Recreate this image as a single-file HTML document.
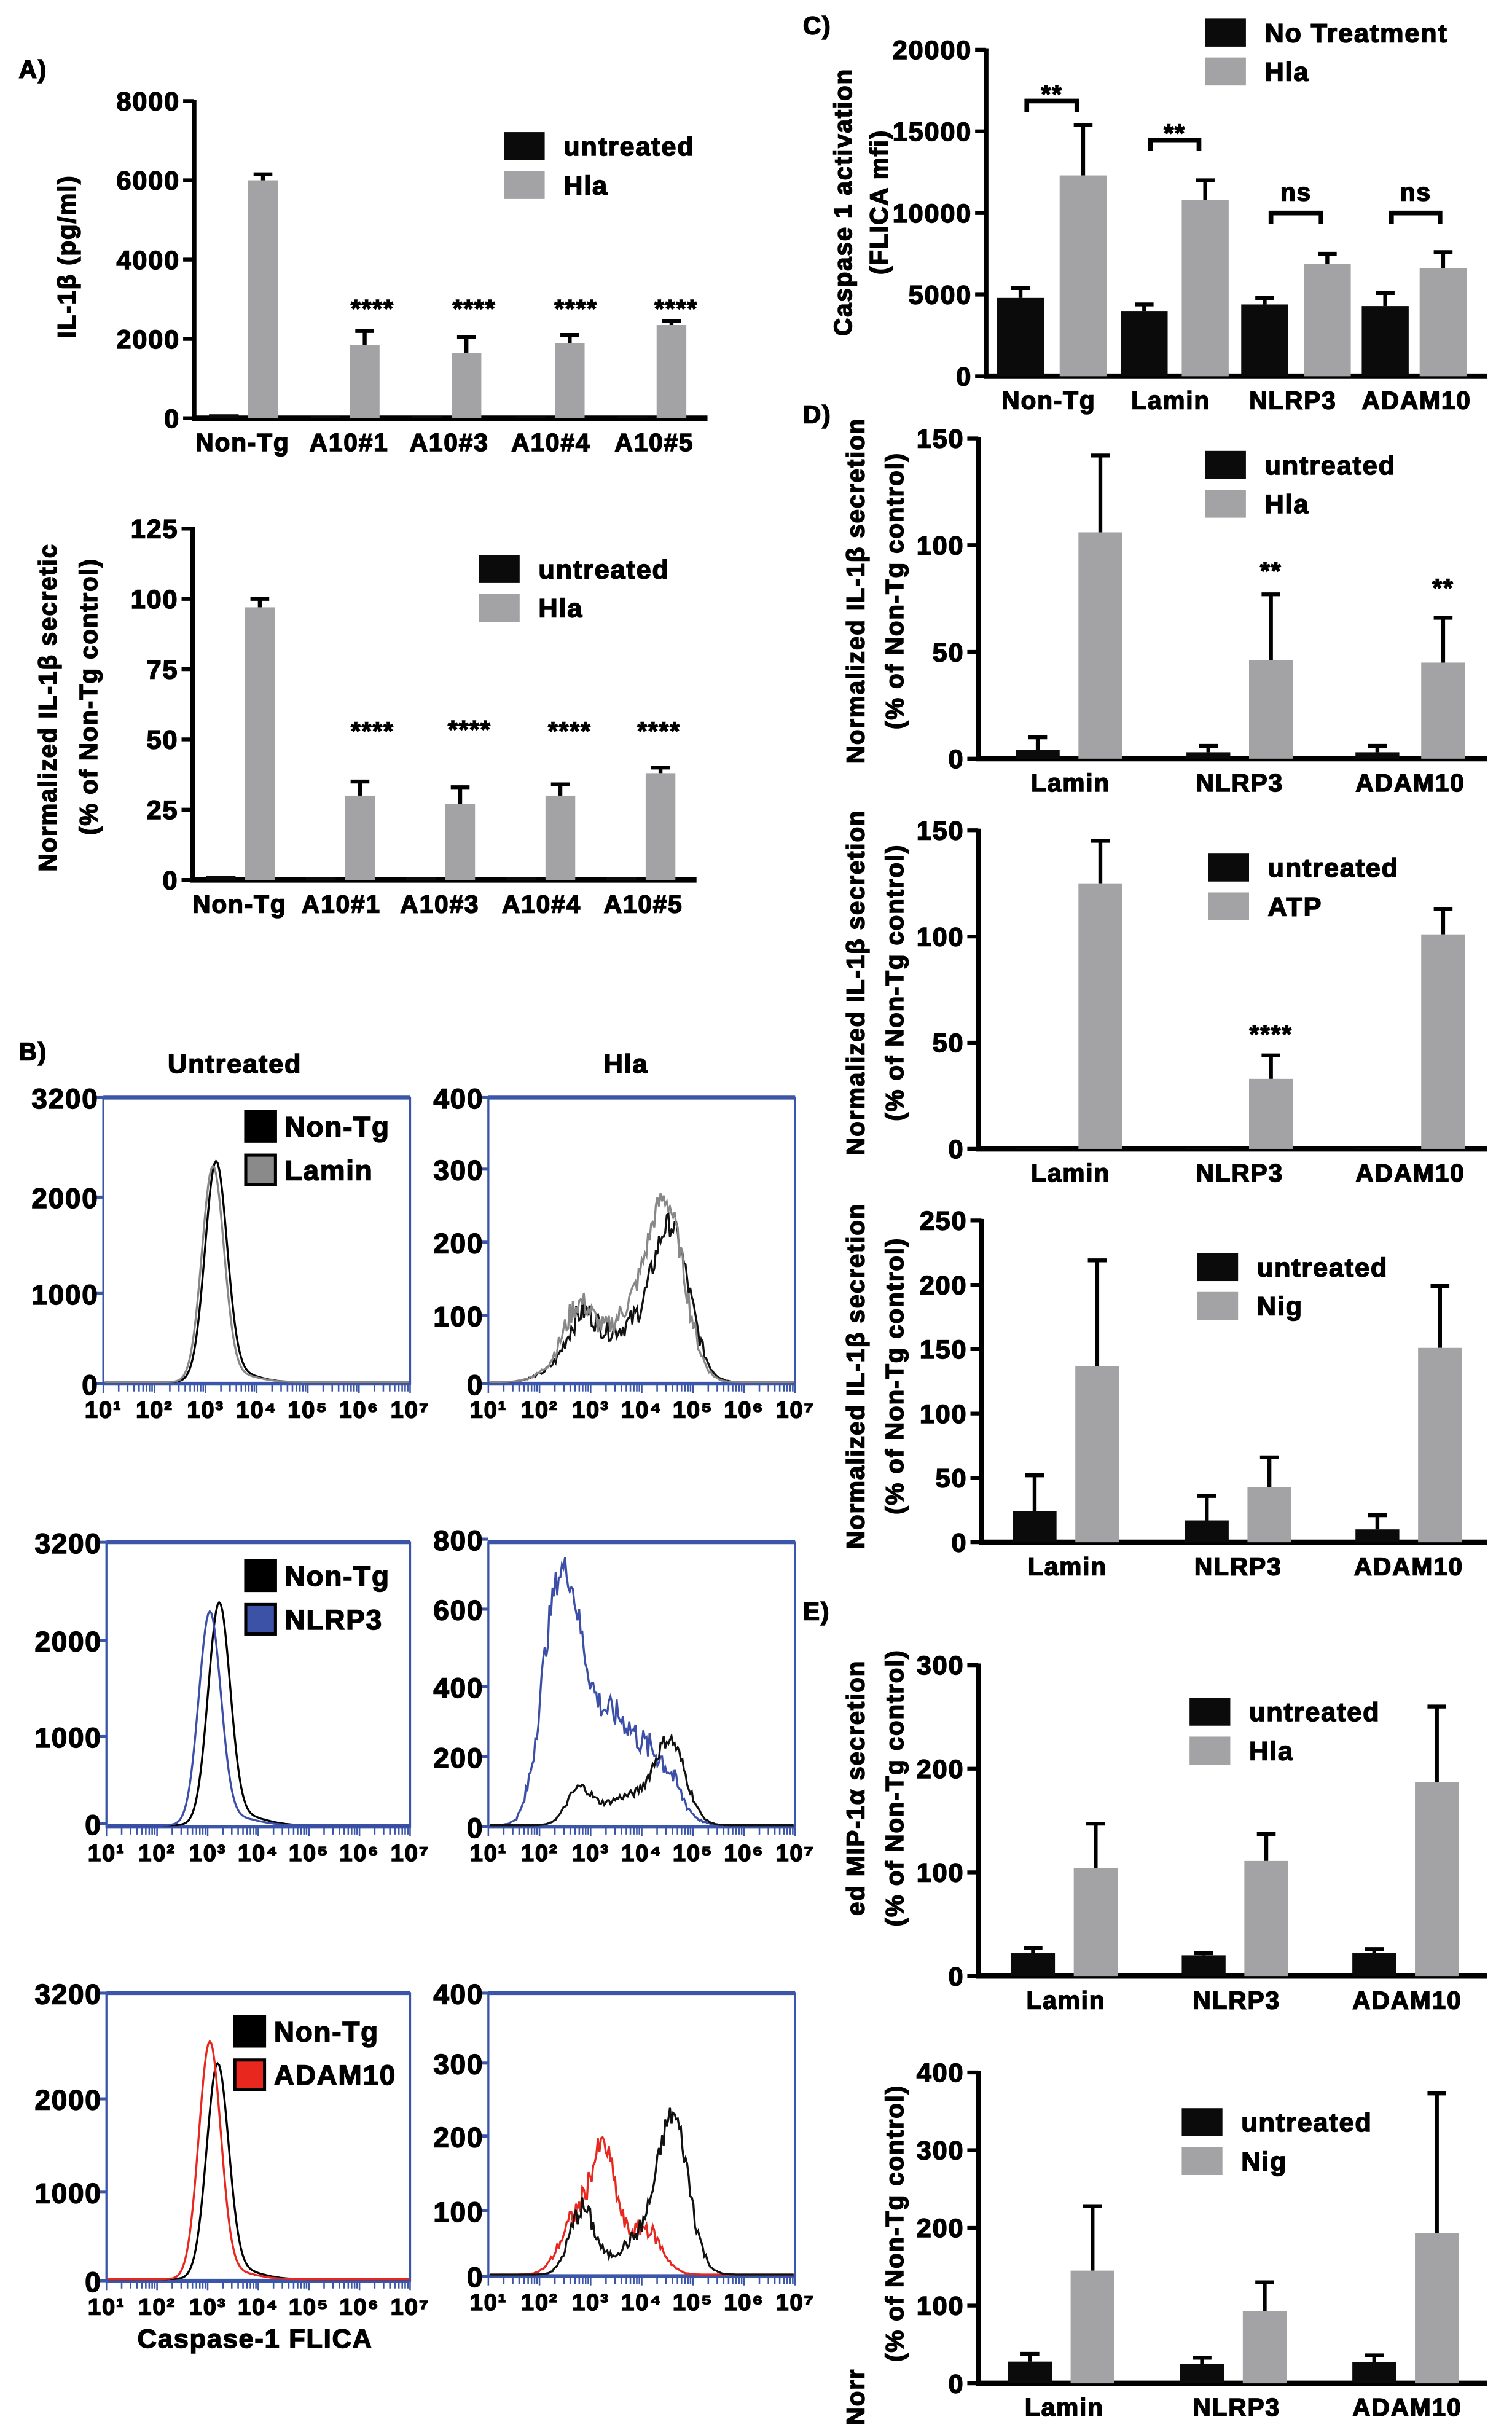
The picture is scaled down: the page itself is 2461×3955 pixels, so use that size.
<!DOCTYPE html>
<html><head><meta charset="utf-8"><style>
html,body{margin:0;padding:0;background:#fff}
svg{display:block}
text{font-family:"Liberation Sans",sans-serif;font-weight:bold;fill:#000;stroke:#000;stroke-width:0.6px;letter-spacing:0.7px}
</style></head><body>
<svg id="s" width="2461" height="3955" viewBox="0 0 966 1563" preserveAspectRatio="none" xmlns="http://www.w3.org/2000/svg">
<rect width="966" height="1563" fill="#fff"/>
</svg>
<script>
const S=document.getElementById('s');const NS='http://www.w3.org/2000/svg';
function el(t,a,txt){const e=document.createElementNS(NS,t);for(const k in a)e.setAttribute(k,a[k]);if(txt!==undefined)e.textContent=txt;S.appendChild(e);return e;}
function T(x,y,s,size,anchor,rot,ls){const a={x:x,y:y,'font-size':size||15,'text-anchor':anchor||'start','font-weight':'bold'};if(rot)a.transform='rotate(-90 '+x+' '+y+')';if(ls)a['letter-spacing']=ls;return el('text',a,s);}
function L(x1,y1,x2,y2,c,w){el('line',{x1,y1,x2,y2,stroke:c||'#000','stroke-width':w||3});}
function R(x,y,w,h,c){el('rect',{x,y,width:w,height:h,fill:c});}
const G='#a3a3a5',K='#0b0b0b';
function bc(o){
 const Y=v=>o.y0-(o.y0-o.yt)*v/o.vm;
 L(o.x,o.yt-1,o.x,o.y0+1.5,'#000',3);L(o.x-1.5,o.y0,o.xe,o.y0,'#000',3.5);
 o.ticks.forEach(t=>{L(o.x-7,Y(t),o.x,Y(t),'#000',2.5);T(o.x-9,Y(t)+6,String(t),o.fs||17,'end');});
 o.bars.forEach(b=>{const bw=o.bw;const col=b[3]?G:K;
  if(b[2]!=null&&b[2]>b[1]){L(b[0],Y(b[1]),b[0],Y(b[2]),'#000',2.5);L(b[0]-6,Y(b[2]),b[0]+6,Y(b[2]),'#000',2.5);}
  R(b[0]-bw/2,Y(b[1]),bw,o.y0-Y(b[1]),col);});
 o.labels.forEach(l=>T(l[0],o.y0+21,l[1],o.lfs||16,'middle'));
 (o.stars||[]).forEach(s=>T(s[0],Y(s[1]),s[2],16,'middle',0,'2'));
 if(o.leg){const[lx,ly,a,b]=o.leg;R(lx,ly,26,18,K);R(lx,ly+25,26,18,G);T(lx+38,ly+15,a,17);T(lx+38,ly+40,b,17);}
}
// Panel A
T(12,50,'A)',16);
T(48,165,'IL-1β (pg/ml)',16,'middle',1,'0');
bc({x:124,y0:269,yt:65,vm:8000,xe:452,ticks:[0,2000,4000,6000,8000],bw:19,
 bars:[[143,100,null,0],[168,6000,6150,1],[208,60,null,0],[233,1850,2200,1],[273,60,null,0],[298,1650,2050,1],[339,50,null,0],[364,1900,2100,1],[404,50,null,0],[429,2350,2450,1]],
 labels:[[155,'Non-Tg'],[223,'A10#1'],[287,'A10#3'],[352,'A10#4'],[418,'A10#5']],
 stars:[[238,2550,'****'],[303,2550,'****'],[368,2550,'****'],[432,2550,'****']],leg:[322,85,'untreated','Hla']});
T(36,455,'Normalized IL-1β secretic',16,'middle',1,'0');
T(62,448,'(% of Non-Tg control)',16,'middle',1,'0');
bc({x:123,y0:566,yt:340,vm:125,xe:445,ticks:[0,25,50,75,100,125],bw:19,
 bars:[[141,1.5,null,0],[166,97,100,1],[205,1,null,0],[230,30,35,1],[269,1,null,0],[294,27,33,1],[333,1,null,0],[358,30,34,1],[397,1,null,0],[422,38,40,1]],
 labels:[[153,'Non-Tg'],[218,'A10#1'],[281,'A10#3'],[346,'A10#4'],[411,'A10#5']],
 stars:[[238,50,'****'],[300,50.5,'****'],[364,50,'****'],[421,50,'****']],leg:[306,357,'untreated','Hla']});
// Panel C
T(513,22,'C)',16);
T(544,130,'Caspase 1 activation',16,'middle',1,'0');T(567,130,'(FLICA mfi)',16,'middle',1,'0');
bc({x:630,y0:242,yt:32,vm:20000,xe:950,ticks:[0,5000,10000,15000,20000],bw:30,
 bars:[[652,4800,5400,0],[692,12300,15400,1],[731,4000,4400,0],[770,10800,12000,1],[808,4400,4800,0],[848,6900,7500,1],[885,4300,5100,0],[922,6600,7600,1]],
 labels:[[670,'Non-Tg'],[748,'Lamin'],[826,'NLRP3'],[905,'ADAM10']],leg:[770,12,'No Treatment','Hla']});
[[656,688,65,'**',70],[735,766,90,'**',95],[812,844,137,'ns',132],[889,920,137,'ns',132]].forEach(b=>{
 el('path',{d:`M${b[0]} ${b[2]+7}V${b[2]}H${b[1]}V${b[2]+7}`,fill:'none',stroke:'#000','stroke-width':3});
 T((b[0]+b[1])/2,b[4]-(b[3]=='**'?4:3),b[3],16,'middle',0,b[3]=='**'?'2':'0');});
// Panel D
T(513,272,'D)',16);
function ylab(cx,a,b){T(552,cx,a,16,'middle',1,'0');T(577,cx,b,16,'middle',1,'0');}
ylab(380,'Normalized IL-1β secretion','(% of Non-Tg control)');
bc({x:625,y0:488,yt:282,vm:150,xe:950,ticks:[0,50,100,150],bw:28,
 bars:[[663,4,10,0],[703,106,142,1],[772,3,6,0],[812,46,77,1],[880,3,6,0],[922,45,66,1]],
 labels:[[684,'Lamin'],[792,'NLRP3'],[901,'ADAM10']],stars:[[812,84,'**'],[922,76,'**']],leg:[770,290,'untreated','Hla']});
ylab(632,'Normalized IL-1β secretion','(% of Non-Tg control)');
bc({x:625,y0:739,yt:534,vm:150,xe:950,ticks:[0,50,100,150],bw:28,
 bars:[[663,0.5,null,0],[703,125,145,1],[772,0.5,null,0],[812,33,44,1],[880,0.5,null,0],[922,101,113,1]],
 labels:[[684,'Lamin'],[792,'NLRP3'],[901,'ADAM10']],stars:[[812,50,'****']],leg:[772,549,'untreated','ATP']});
ylab(885,'Normalized IL-1β secretion','(% of Non-Tg control)');
bc({x:627,y0:992,yt:785,vm:250,xe:950,ticks:[0,50,100,150,200,250],bw:28,
 bars:[[661,24,52,0],[701,137,219,1],[771,17,36,0],[811,43,66,1],[880,10,21,0],[920,151,199,1]],
 labels:[[682,'Lamin'],[791,'NLRP3'],[900,'ADAM10']],leg:[765,806,'untreated','Nig']});
// Panel E
T(513,1042,'E)',16);
ylab(1150,'ed MIP-1α secretion','(% of Non-Tg control)');
bc({x:625,y0:1271,yt:1071,vm:300,xe:950,ticks:[0,100,200,300],bw:28,
 bars:[[660,22,27,0],[700,104,147,1],[769,20,22,0],[809,111,137,1],[878,22,26,0],[918,187,260,1]],
 labels:[[681,'Lamin'],[790,'NLRP3'],[899,'ADAM10']],leg:[760,1092,'untreated','Hla']});
T(577,1430,'(% of Non-Tg control)',16,'middle',1,'0');T(552,1560,'Norr',16,'start',1,'0');
bc({x:625,y0:1533,yt:1333,vm:400,xe:950,ticks:[0,100,200,300,400],bw:28,
 bars:[[658,28,38,0],[698,145,228,1],[768,25,33,0],[808,93,130,1],[878,27,36,0],[918,193,373,1]],
 labels:[[680,'Lamin'],[790,'NLRP3'],[899,'ADAM10']],leg:[755,1356,'untreated','Nig']});
// Panel B
T(12,682,'B)',16);T(150,690,'Untreated',17,'middle');T(400,690,'Hla',17,'middle');
let seed=7;function rnd(){seed=(seed*9301+49297)%233280;return seed/233280;}
function box(x0,x1,yt,yb,ticks){
 el('rect',{x:x0,y:yt,width:x1-x0,height:yb-yt,fill:'none',stroke:'#3b55a8','stroke-width':1.3});
 L(x0,yt,x1,yt,'#3b55a8',2.5);L(x0,yb,x1,yb,'#3b55a8',2.5);
 ticks.forEach(t=>{L(x0-5,t[1],x0,t[1],'#3b55a8',2);T(x0-3,t[1]+7,t[0],18,'end');});
 const dx=(x1-x0)/6;
 for(let d=0;d<6;d++){for(let k=1;k<10;k++){const xx=x0+dx*(d+Math.log10(k));L(xx,yb,xx,yb+(k==1?6:5),'#3b55a8',1);}}
 L(x1,yb,x1,yb+6,'#3b55a8',1);
 const sup=['¹','²','³','⁴','⁵','⁶','⁷'];
 for(let d=0;d<7;d++){T(x0+dx*d,yb+22,'10'+sup[d],15,'middle',0,'0');}
}
function hist(x0,x1,yb,comps,col,noise){
 let p='';for(let x=x0+1;x<=x1-1;x+=1){let h=0;comps.forEach(c=>{h+=c[2]*Math.exp(-0.5*((x-c[0])/c[1])**2);});
  h+= (rnd()-0.5)*noise*Math.min(h,40)/20;if(h<0)h=0;p+=(p?'L':'M')+x+' '+(yb-1-h).toFixed(1);}
 el('path',{d:p,fill:'none',stroke:col,'stroke-width':1.3});}
function leg(x,y,a,b,c2){R(x,y,21,21,'#000');R(x,y+28,21,21,'#000');R(x+2,y+30,17,17,c2);T(x+26,y+17,a,18);T(x+26,y+45,b,18);}
// row1
box(66,262,706,890,[['3200',706],['2000',770],['1000',832],['0',890]]);
box(312,508,706,890,[['400',706],['300',752],['200',799],['100',846],['0',890]]);
hist(66,262,890,[[138,7,138],[150,14,6]],'#000',0);hist(66,262,890,[[136,7,136],[150,14,5]],'#888',0);
hist(312,508,890,[[372,10,42],[398,12,30],[428,12,100],[350,10,5]],'#111',8);
hist(312,508,890,[[370,10,48],[398,12,36],[425,12,115],[350,10,5]],'#888',8);
leg(156,714,'Non-Tg','Lamin','#8a8a8a');
// row2
box(68,262,992,1175,[['3200',992],['2000',1055],['1000',1117],['0',1173]]);
box(312,508,992,1175,[['800',990],['600',1035],['400',1085],['200',1130],['0',1175]]);
hist(68,262,1175,[[140,7,140],[155,14,6]],'#000',0);hist(68,262,1175,[[134,7,135],[150,14,5]],'#3b4fa8',0);
hist(312,508,1175,[[360,11,140],[392,20,70],[348,7,25],[425,10,22]],'#3b4fa8',10);
hist(312,508,1175,[[370,8,22],[428,10,52],[400,15,18]],'#111',5);
leg(156,1003,'Non-Tg','NLRP3','#3b52a6');
// row3
box(68,262,1282,1467,[['3200',1282],['2000',1350],['1000',1410],['0',1467]]);
box(312,508,1282,1464,[['400',1282],['300',1327],['200',1374],['100',1422],['0',1464]]);
hist(68,262,1467,[[139,7,135],[152,14,6]],'#000',0);hist(68,262,1467,[[134,7,150],[148,14,5]],'#e8281e',0);
hist(312,508,1464,[[386,8,75],[368,10,35],[412,10,30]],'#e8281e',8);
hist(312,508,1464,[[372,8,42],[430,10,100],[405,12,20]],'#111',8);
leg(149,1296,'Non-Tg','ADAM10','#e8281e');
T(163,1510,'Caspase-1 FLICA',17,'middle');
</script>
</body></html>
